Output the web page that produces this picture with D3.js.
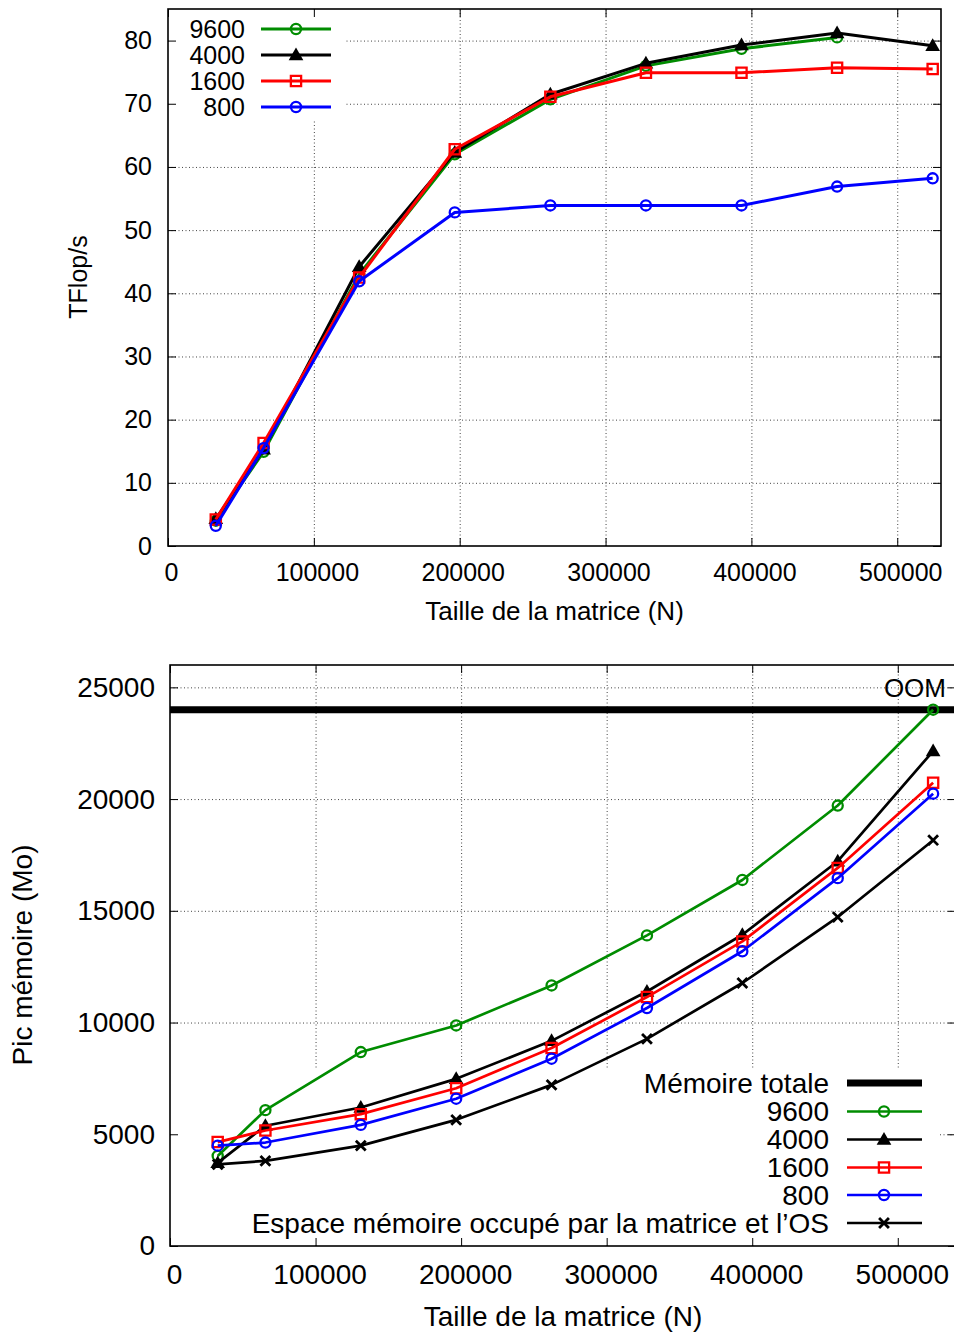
<!DOCTYPE html>
<html><head><meta charset="utf-8">
<script src="https://cdn.jsdelivr.net/npm/d3@7"></script>
<style>
body{margin:0;background:#fff}
svg{display:block}
text{font-family:"Liberation Sans",Arial,Helvetica,sans-serif;fill:#000}
</style>
</head><body>
<svg id="c" width="954" height="1333"></svg>
<script>
// ---------- DATA ----------
const matrixN = [32768, 65536, 131072, 196608, 262144, 327680, 393216, 458752, 524288];
const seriesNames = ["9600", "4000", "1600", "800"];
const seriesColors = ["#008c00", "#000000", "#ff0000", "#0000ff"];
const seriesMarkers = ["circle", "triangle", "square", "circle"];

const tflops9600 = [4.0, 14.9, 43.0, 62.0, 70.7, 76.0, 78.7, 80.5];
const tflops4000 = [4.3, 15.3, 44.2, 62.3, 71.5, 76.4, 79.3, 81.2, 79.2];
const tflops1600 = [4.2, 16.3, 42.5, 62.8, 71.1, 74.9, 74.9, 75.7, 75.5];
const tflops800  = [3.2, 15.5, 41.9, 52.8, 53.9, 53.9, 53.9, 56.9, 58.2];

const mem9600 = [4030, 6080, 8680, 9870, 11660, 13900, 16380, 19710, 24000];
const mem4000 = [3720, 5380, 6200, 7480, 9180, 11390, 13930, 17220, 22150];
const mem1600 = [4650, 5170, 5900, 7060, 8860, 11140, 13630, 16920, 20730];
const mem800  = [4490, 4630, 5420, 6590, 8380, 10650, 13190, 16460, 20240];
const memOS   = [3650, 3810, 4490, 5645, 7210, 9270, 11770, 14720, 18160];
const memTotal = 24000;
const memTotalLabel = "Mémoire totale";
const memOSLabel = "Espace mémoire occupé par la matrice et l’OS";
const oomLabel = "OOM";

const xTicks = [0, 100000, 200000, 300000, 400000, 500000];
const yTicksTop = [0, 10, 20, 30, 40, 50, 60, 70, 80];
const yTicksBottom = [0, 5000, 10000, 15000, 20000, 25000];
const xTitle = "Taille de la matrice (N)";
const yTitleTop = "TFlop/s";
const yTitleBottom = "Pic mémoire (Mo)";

// ---------- DRAW ----------
const svg = d3.select("#c");

function marker(g, type, cx, cy, color, sc) {
  sc = sc || 1;
  if (type === "circle") {
    g.append("circle").attr("cx", cx).attr("cy", cy).attr("r", 4.8 * sc)
      .attr("fill", "none").attr("stroke", color).attr("stroke-width", 2.3);
  } else if (type === "triangle") {
    g.append("path").attr("transform", `translate(${cx},${cy + 1})`)
      .attr("d", d3.symbol(d3.symbolTriangle).size(85 * sc * sc)()).attr("fill", color);
  } else if (type === "square") {
    g.append("path").attr("transform", `translate(${cx},${cy})`)
      .attr("d", d3.symbol(d3.symbolSquare).size(95 * sc * sc)())
      .attr("fill", "none").attr("stroke", color).attr("stroke-width", 2.3);
  } else if (type === "x") {
    const s = 4.7 * sc;
    g.append("path").attr("d", `M${cx - s},${cy - s}L${cx + s},${cy + s}M${cx - s},${cy + s}L${cx + s},${cy - s}`)
      .attr("stroke", color).attr("stroke-width", 2.8).attr("fill", "none");
  }
}

function panel(cfg) {
  const g = svg.append("g");
  const x = d3.scaleLinear().domain(cfg.xDomain).range([cfg.left, cfg.right]);
  const y = d3.scaleLinear().domain(cfg.yDomain).range([cfg.bottom, cfg.top]);
  const fs = cfg.fontSize;

  // grid
  const grid = g.append("g");
  grid.append("g").attr("transform", `translate(0,${cfg.bottom})`)
    .call(d3.axisBottom(x).tickValues(xTicks.filter(v => v > 0)).tickSize(-(cfg.bottom - cfg.top)).tickFormat(""))
    .call(a => a.select(".domain").remove());
  grid.append("g").attr("transform", `translate(${cfg.left},0)`)
    .call(d3.axisLeft(y).tickValues(cfg.yTicks.filter(v => v > 0)).tickSize(-(cfg.right - cfg.left)).tickFormat(""))
    .call(a => a.select(".domain").remove());
  grid.selectAll("line").attr("stroke", "#444").attr("stroke-width", 1).attr("stroke-dasharray", "1,2.5");

  // opaque key box hides the grid
  g.append("rect").attr("x", cfg.keyBox[0]).attr("y", cfg.keyBox[1])
    .attr("width", cfg.keyBox[2]).attr("height", cfg.keyBox[3]).attr("fill", "#fff");

  // axes with inward ticks
  const axB = g.append("g").attr("transform", `translate(0,${cfg.bottom})`)
    .call(d3.axisBottom(x).tickValues(xTicks).tickSize(-8).tickSizeOuter(0).tickPadding(cfg.xPad).tickFormat(d3.format("d")));
  axB.selectAll("text").attr("font-size", fs).attr("dx", cfg.xdx).attr("font-family", "Liberation Sans, Arial, sans-serif");
  const axL = g.append("g").attr("transform", `translate(${cfg.left},0)`)
    .call(d3.axisLeft(y).tickValues(cfg.yTicks).tickSize(-8).tickSizeOuter(0).tickPadding(cfg.yPad).tickFormat(d3.format("d")));
  axL.selectAll("text").attr("font-size", fs).attr("font-family", "Liberation Sans, Arial, sans-serif");
  g.append("g").attr("transform", `translate(0,${cfg.top})`)
    .call(d3.axisTop(x).tickValues(xTicks).tickSize(-8).tickSizeOuter(0).tickFormat(""));
  g.append("g").attr("transform", `translate(${cfg.right},0)`)
    .call(d3.axisRight(y).tickValues(cfg.yTicks).tickSize(-8).tickSizeOuter(0).tickFormat(""));
  g.selectAll(".domain").remove();

  // frame
  g.append("rect").attr("x", cfg.left).attr("y", cfg.top)
    .attr("width", cfg.right - cfg.left).attr("height", cfg.bottom - cfg.top)
    .attr("fill", "none").attr("stroke", "#000").attr("stroke-width", 1.6);

  // titles
  g.append("text").attr("x", (cfg.left + cfg.right) / 2).attr("y", cfg.xTitleY)
    .attr("text-anchor", "middle").attr("font-size", cfg.xTitleSize).text(xTitle);
  g.append("text").attr("transform", `translate(${cfg.yTitleX},${cfg.yTitleCY}) rotate(-90)`)
    .attr("text-anchor", "middle").attr("dominant-baseline", "central").attr("font-size", fs).text(cfg.yTitle);

  return { g, x, y };
}

// ---------- TOP PANEL ----------
const topP = panel({
  left: 168, right: 941, top: 9, bottom: 546,
  xDomain: [0, 530000], yDomain: [0, 85], yTicks: yTicksTop,
  fontSize: 25, xTitleSize: 26, xPad: 17, yPad: 16, xdx: 3,
  xTitleY: 620, yTitle: yTitleTop, yTitleX: 78, yTitleCY: 277,
  keyBox: [169, 10, 177, 110]
});
const topSeries = [tflops9600, tflops4000, tflops1600, tflops800];
topSeries.forEach((vals, i) => {
  const pts = vals.map((v, j) => [matrixN[j], v]);
  topP.g.append("path").datum(pts)
    .attr("d", d3.line().x(d => topP.x(d[0])).y(d => topP.y(d[1])))
    .attr("fill", "none").attr("stroke", seriesColors[i]).attr("stroke-width", 3)
    .attr("stroke-linejoin", "round");
  const mg = topP.g.append("g");
  pts.forEach(d => marker(mg, seriesMarkers[i], topP.x(d[0]), topP.y(d[1]), seriesColors[i], 1.05));
});
// top legend
const topRows = [29, 55, 81, 107];
seriesNames.forEach((name, i) => {
  const ry = topRows[i];
  topP.g.append("text").attr("x", 245).attr("y", ry).attr("text-anchor", "end")
    .attr("dominant-baseline", "central").attr("font-size", 25).text(name);
  topP.g.append("line").attr("x1", 261).attr("x2", 331).attr("y1", ry).attr("y2", ry)
    .attr("stroke", seriesColors[i]).attr("stroke-width", 3);
  marker(topP.g, seriesMarkers[i], 296, ry, seriesColors[i], 1.05);
});

// ---------- BOTTOM PANEL ----------
const botP = panel({
  left: 170, right: 956, top: 665, bottom: 1246,
  xDomain: [0, 540000], yDomain: [0, 26000], yTicks: yTicksBottom,
  fontSize: 28, xTitleSize: 28, xPad: 18, yPad: 15, xdx: 4,
  xTitleY: 1326, yTitle: yTitleBottom, yTitleX: 22, yTitleCY: 955,
  keyBox: [172, 1068, 766, 176]
});
// OOM label
botP.g.append("text").attr("x", 946).attr("y", 697).attr("text-anchor", "end")
  .attr("font-size", 26).text(oomLabel);
// total memory line
botP.g.append("line").attr("x1", botP.x(0)).attr("x2", botP.x(540000))
  .attr("y1", botP.y(memTotal)).attr("y2", botP.y(memTotal))
  .attr("stroke", "#000").attr("stroke-width", 7);

const botSeries = [mem9600, mem4000, mem1600, mem800, memOS];
const botColors = seriesColors.concat(["#000000"]);
const botMarkers = seriesMarkers.concat(["x"]);
const botNames = seriesNames.concat([memOSLabel]);
botSeries.forEach((vals, i) => {
  const pts = vals.map((v, j) => [matrixN[j], v]);
  botP.g.append("path").datum(pts)
    .attr("d", d3.line().x(d => botP.x(d[0])).y(d => botP.y(d[1])))
    .attr("fill", "none").attr("stroke", botColors[i]).attr("stroke-width", 2.7)
    .attr("stroke-linejoin", "round");
  const mg = botP.g.append("g");
  pts.forEach(d => marker(mg, botMarkers[i], botP.x(d[0]), botP.y(d[1]), botColors[i], 1.05));
});
// bottom legend
const botRows = [1083, 1111.5, 1139.5, 1167.5, 1195, 1223];
botP.g.append("text").attr("x", 829).attr("y", botRows[0]).attr("text-anchor", "end")
  .attr("dominant-baseline", "central").attr("font-size", 28).text(memTotalLabel);
botP.g.append("line").attr("x1", 847).attr("x2", 922).attr("y1", botRows[0]).attr("y2", botRows[0])
  .attr("stroke", "#000").attr("stroke-width", 7);
botNames.forEach((name, i) => {
  const ry = botRows[i + 1];
  botP.g.append("text").attr("x", 829).attr("y", ry).attr("text-anchor", "end")
    .attr("dominant-baseline", "central").attr("font-size", 28).text(name);
  botP.g.append("line").attr("x1", 847).attr("x2", 922).attr("y1", ry).attr("y2", ry)
    .attr("stroke", botColors[i]).attr("stroke-width", 2.7);
  marker(botP.g, botMarkers[i], 884, ry, botColors[i], 1.05);
});
</script>
</body></html>
